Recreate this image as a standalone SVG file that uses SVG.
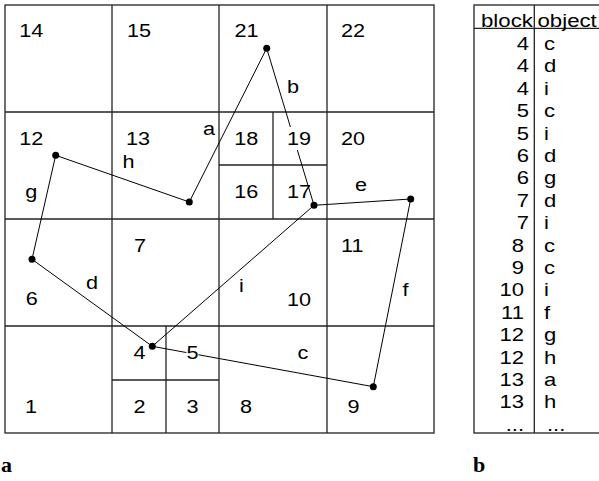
<svg xmlns="http://www.w3.org/2000/svg" width="599" height="481" viewBox="0 0 599 481">
<defs>
<style>
.grid{stroke:#222;stroke-width:1.3;fill:none}
.edge{stroke:#000;stroke-width:1;fill:none}
.dot{fill:#000}
text{font-family:"Liberation Sans",Arial,sans-serif;font-size:19px;fill:#000}
.cap{font-family:"Liberation Serif","Times New Roman",serif;font-size:22px;font-weight:bold}
.bg{fill:#fff}
</style>
</defs>
<rect width="599" height="481" fill="#fff"/>
<g id="grid">
<rect class="grid" x="5" y="5" width="429" height="428"/>
<line class="grid" x1="112" y1="5" x2="112" y2="433"/>
<line class="grid" x1="219" y1="5" x2="219" y2="433"/>
<line class="grid" x1="327" y1="5" x2="327" y2="433"/>
<line class="grid" x1="5" y1="112" x2="434" y2="112"/>
<line class="grid" x1="5" y1="219" x2="434" y2="219"/>
<line class="grid" x1="5" y1="326" x2="434" y2="326"/>
<line class="grid" x1="273" y1="112" x2="273" y2="219"/>
<line class="grid" x1="219" y1="165" x2="327" y2="165"/>
<line class="grid" x1="166" y1="326" x2="166" y2="433"/>
<line class="grid" x1="112" y1="380" x2="219" y2="380"/>
</g>
<g id="connectors">
<line id="edge-a" class="edge" x1="189.3" y1="202" x2="266.7" y2="48.3"/>
<line id="edge-b" class="edge" x1="266.7" y1="48.3" x2="314" y2="205.3"/>
<line id="edge-e" class="edge" x1="314" y1="205.3" x2="410.7" y2="199"/>
<line id="edge-f" class="edge" x1="410.7" y1="199" x2="373.3" y2="386.7"/>
<line id="edge-c" class="edge" x1="373.3" y1="386.7" x2="152.3" y2="346.3"/>
<line id="edge-d" class="edge" x1="152.3" y1="346.3" x2="32" y2="259.3"/>
<line id="edge-g" class="edge" x1="32" y1="259.3" x2="55.7" y2="155.3"/>
<line id="edge-h" class="edge" x1="55.7" y1="155.3" x2="189.3" y2="202"/>
<line id="edge-i" class="edge" x1="152.3" y1="346.3" x2="314" y2="205.3"/>
</g>
<g id="vertices">
<circle class="dot" cx="189.3" cy="202" r="3.5"/>
<circle class="dot" cx="266.7" cy="48.3" r="3.5"/>
<circle class="dot" cx="314" cy="205.3" r="3.5"/>
<circle class="dot" cx="410.7" cy="199" r="3.5"/>
<circle class="dot" cx="373.3" cy="386.7" r="3.5"/>
<circle class="dot" cx="152.3" cy="346.3" r="3.5"/>
<circle class="dot" cx="32" cy="259.3" r="3.5"/>
<circle class="dot" cx="55.7" cy="155.3" r="3.5"/>
</g>
<g id="block-labels">
<text transform="translate(19.3,36.7) scale(1.14,1)">14</text>
<text transform="translate(127,36.7) scale(1.14,1)">15</text>
<text transform="translate(234.4,36.7) scale(1.14,1)">21</text>
<text transform="translate(341,36.7) scale(1.14,1)">22</text>
<text transform="translate(19.3,145) scale(1.14,1)">12</text>
<text transform="translate(126,145) scale(1.14,1)">13</text>
<text transform="translate(234.3,145) scale(1.14,1)">18</text>
<rect class="bg" x="287" y="127" width="24" height="23"/>
<text transform="translate(287,145) scale(1.14,1)">19</text>
<text transform="translate(341,145) scale(1.14,1)">20</text>
<text transform="translate(234.3,198.3) scale(1.14,1)">16</text>
<text transform="translate(287,198.3) scale(1.14,1)">17</text>
<text transform="translate(134,252.3) scale(1.14,1)">7</text>
<text transform="translate(341,252.3) scale(1.14,1)">11</text>
<text transform="translate(25.8,305) scale(1.14,1)">6</text>
<text transform="translate(287,306) scale(1.14,1)">10</text>
<text transform="translate(133.4,359) scale(1.14,1)">4</text>
<rect class="bg" x="186.4" y="342" width="12" height="22"/>
<text transform="translate(186.4,359) scale(1.14,1)">5</text>
<text transform="translate(24.9,412.7) scale(1.14,1)">1</text>
<text transform="translate(133.4,412.7) scale(1.14,1)">2</text>
<text transform="translate(186.4,412.7) scale(1.14,1)">3</text>
<text transform="translate(240,412.7) scale(1.14,1)">8</text>
<text transform="translate(347.5,412.7) scale(1.14,1)">9</text>
</g>
<g id="edge-labels">
<text transform="translate(203,135) scale(1.14,1)">a</text>
<text transform="translate(287,92.7) scale(1.14,1)">b</text>
<text transform="translate(297.5,359.3) scale(1.14,1)">c</text>
<text transform="translate(86,289.3) scale(1.14,1)">d</text>
<text transform="translate(355,190.7) scale(1.14,1)">e</text>
<text transform="translate(402.4,296) scale(1.14,1)">f</text>
<text transform="translate(25.3,198.3) scale(1.14,1)">g</text>
<text transform="translate(122.5,168) scale(1.14,1)">h</text>
<text transform="translate(239,291.7) scale(1.14,1)">i</text>
</g>
<g id="table">
<rect class="grid" x="474" y="5" width="140" height="428"/>
<line class="grid" x1="474" y1="28.3" x2="599" y2="28.3"/>
<line class="grid" x1="534.3" y1="5" x2="534.3" y2="433"/>
<text transform="translate(481,26.7) scale(1.17,1)">block</text>
<text transform="translate(537.5,26.7) scale(1.17,1)">object</text>
<g text-anchor="end">
<text transform="translate(529,50) scale(1.16,1)">4</text>
<text transform="translate(529,72.4) scale(1.16,1)">4</text>
<text transform="translate(529,94.8) scale(1.16,1)">4</text>
<text transform="translate(529,117.2) scale(1.16,1)">5</text>
<text transform="translate(529,139.6) scale(1.16,1)">5</text>
<text transform="translate(529,162) scale(1.16,1)">6</text>
<text transform="translate(529,184.4) scale(1.16,1)">6</text>
<text transform="translate(529,206.8) scale(1.16,1)">7</text>
<text transform="translate(529,229.2) scale(1.16,1)">7</text>
<text transform="translate(524,251.6) scale(1.16,1)">8</text>
<text transform="translate(524,274) scale(1.16,1)">9</text>
<text transform="translate(524,296.4) scale(1.16,1)">10</text>
<text transform="translate(524,318.8) scale(1.16,1)">11</text>
<text transform="translate(524,341.2) scale(1.16,1)">12</text>
<text transform="translate(524,363.6) scale(1.16,1)">12</text>
<text transform="translate(524,386) scale(1.16,1)">13</text>
<text transform="translate(524,408.4) scale(1.16,1)">13</text>
<text transform="translate(524,430.8) scale(1.16,1)">...</text>
</g>
<text transform="translate(544,50) scale(1.16,1)">c</text>
<text transform="translate(544,72.4) scale(1.16,1)">d</text>
<text transform="translate(544,94.8) scale(1.16,1)">i</text>
<text transform="translate(544,117.2) scale(1.16,1)">c</text>
<text transform="translate(544,139.6) scale(1.16,1)">i</text>
<text transform="translate(544,162) scale(1.16,1)">d</text>
<text transform="translate(544,184.4) scale(1.16,1)">g</text>
<text transform="translate(544,206.8) scale(1.16,1)">d</text>
<text transform="translate(544,229.2) scale(1.16,1)">i</text>
<text transform="translate(544,251.6) scale(1.16,1)">c</text>
<text transform="translate(544,274) scale(1.16,1)">c</text>
<text transform="translate(544,296.4) scale(1.16,1)">i</text>
<text transform="translate(544,318.8) scale(1.16,1)">f</text>
<text transform="translate(544,341.2) scale(1.16,1)">g</text>
<text transform="translate(544,363.6) scale(1.16,1)">h</text>
<text transform="translate(544,386) scale(1.16,1)">a</text>
<text transform="translate(544,408.4) scale(1.16,1)">h</text>
<text transform="translate(547,430.8) scale(1.16,1)">...</text>
</g>
<g id="captions">
<text class="cap" x="1" y="472">a</text>
<text class="cap" x="473" y="472">b</text>
</g>
</svg>
